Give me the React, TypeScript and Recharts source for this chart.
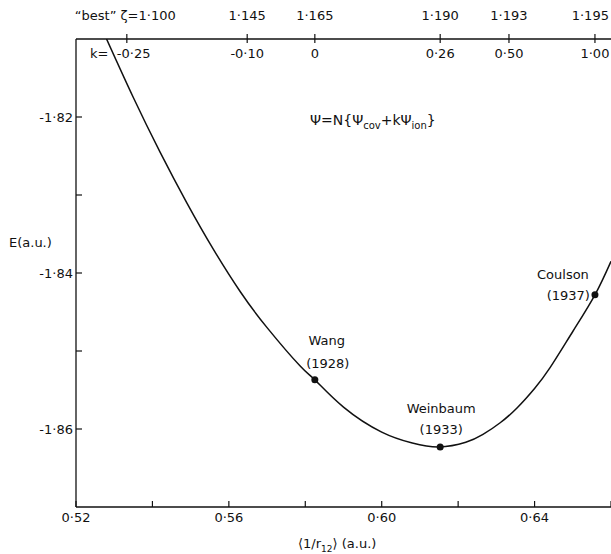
import { ComposedChart, Line, Scatter, XAxis, YAxis } from "recharts";

// energy curve E(<1/r12>)
const curveX = [
  0.528, 0.535, 0.542, 0.549, 0.556, 0.563, 0.57, 0.5786, 0.5825, 0.59, 0.6, 0.608, 0.615, 0.622,
  0.6265, 0.631, 0.6354, 0.64, 0.6441, 0.65, 0.6558, 0.66,
];
const curveE = [
  -1.81, -1.8175, -1.8245, -1.831, -1.837, -1.8424, -1.847, -1.8519, -1.8537, -1.8572, -1.8604,
  -1.8618, -1.8623, -1.8617, -1.8607, -1.8592, -1.8573, -1.8548, -1.8521, -1.8475, -1.8428, -1.8385,
];

// literature wavefunctions
const refNames = ["Wang", "Weinbaum", "Coulson"];
const refYears = ["(1928)", "(1933)", "(1937)"];
const refX = [0.5825, 0.6153, 0.6558];
const refE = [-1.8537, -1.8623, -1.8428];

// axes
const bottomTicks = [0.52, 0.54, 0.56, 0.58, 0.6, 0.62, 0.64, 0.66];
const bottomLabelled = [0.52, 0.56, 0.6, 0.64];
const leftTicks = [-1.86, -1.85, -1.84, -1.83, -1.82];
const leftLabelled = [-1.86, -1.84, -1.82];
const topTickX = [0.5333, 0.5648, 0.5825, 0.6153, 0.6333, 0.6558];
const zetaLabels = ["1·100", "1·145", "1·165", "1·190", "1·193", "1·195"];
const kLabels = ["-0·25", "-0·10", "0", "0·26", "0·50", "1·00"];

const curveRows = curveX.map((x, i) => ({ x, E: curveE[i] }));
const refRows = refX.map((x, i) => ({ x, E: refE[i], name: refNames[i], year: refYears[i] }));

const FONT = "'DejaVu Sans', Verdana, sans-serif";
const INK = "#111";
const FS = 13;

const near = (a: number, b: number) => Math.abs(a - b) < 1e-6;
const fmt = (v: number) => v.toFixed(2).replace(".", "·");

// where the two-line captions sit relative to each dot
const CAPTION: Record<string, { name: [number, number]; year: [number, number]; yearAnchor: string }> = {
  Wang: { name: [12, -35], year: [13, -12], yearAnchor: "middle" },
  Weinbaum: { name: [1, -34], year: [1, -13], yearAnchor: "middle" },
  Coulson: { name: [-32, -16], year: [-5, 5], yearAnchor: "end" },
};

function BottomTick(props: any) {
  const { x, y, payload } = props;
  const v = payload.value as number;
  const labelled = bottomLabelled.some((t) => near(t, v));
  return (
    <g>
      <line x1={x} x2={x} y1={y} y2={y - 6} stroke={INK} strokeWidth={1.2} />
      {labelled && (
        <text x={x} y={y + 15} textAnchor="middle" fontSize={FS} fontFamily={FONT} fill={INK}>
          {fmt(v)}
        </text>
      )}
    </g>
  );
}

function LeftTick(props: any) {
  const { x, y, payload } = props;
  const v = payload.value as number;
  const labelled = leftLabelled.some((t) => near(t, v));
  return (
    <g>
      <line x1={x} x2={x + 6} y1={y} y2={y} stroke={INK} strokeWidth={1.2} />
      {labelled && (
        <text x={x - 3} y={y + 5} textAnchor="end" fontSize={FS} fontFamily={FONT} fill={INK}>
          {fmt(v)}
        </text>
      )}
    </g>
  );
}

function TopTick(props: any) {
  const { x, y, payload } = props;
  const i = topTickX.findIndex((t) => near(t, payload.value));
  if (i < 0) return null;
  const first = i === 0;
  const last = i === topTickX.length - 1;
  return (
    <g fontFamily={FONT} fill={INK} fontSize={FS}>
      <line x1={x} x2={x} y1={y - 5} y2={y + 4} stroke={INK} strokeWidth={1.2} />
      {first ? (
        <text x={x - 52} y={y - 19} textAnchor="start">
          {"\u201Cbest\u201D ζ=" + zetaLabels[i]}
        </text>
      ) : (
        <text x={last ? x + 14 : x} y={y - 19} textAnchor={last ? "end" : "middle"}>
          {zetaLabels[i]}
        </text>
      )}
      <text x={first ? x - 10 : x} y={y + 19} textAnchor={first ? "start" : "middle"}>
        {kLabels[i]}
      </text>
    </g>
  );
}

function RefPoint(props: any) {
  const { cx, cy, payload } = props;
  const c = CAPTION[payload.name];
  return (
    <g fontFamily={FONT} fontSize={FS} fill={INK}>
      <circle cx={cx} cy={cy} r={3.5} fill={INK} />
      <text x={cx + c.name[0]} y={cy + c.name[1]} textAnchor="middle">
        {payload.name}
      </text>
      <text x={cx + c.year[0]} y={cy + c.year[1]} textAnchor={c.yearAnchor as any}>
        {payload.year}
      </text>
    </g>
  );
}

export default function App() {
  return (
    <div style={{ position: "absolute", left: 0, top: 0, width: 611, height: 554, background: "#fff" }}>
      <ComposedChart width={611} height={554} data={curveRows} margin={{ top: 0, right: 0, bottom: 0, left: 0 }}>
        <XAxis
          xAxisId="b"
          dataKey="x"
          type="number"
          domain={[0.52, 0.66]}
          ticks={bottomTicks}
          interval={0}
          height={47}
          allowDataOverflow
          tickLine={false}
          tickSize={0}
          tickMargin={0}
          tick={<BottomTick />}
          axisLine={{ stroke: INK, strokeWidth: 1.3 }}
        />
        <XAxis
          xAxisId="t"
          orientation="top"
          dataKey="x"
          type="number"
          domain={[0.52, 0.66]}
          ticks={topTickX}
          interval={0}
          height={39}
          allowDataOverflow
          tickLine={false}
          tickSize={0}
          tickMargin={0}
          tick={<TopTick />}
          axisLine={{ stroke: INK, strokeWidth: 1.3 }}
        />
        <YAxis
          dataKey="E"
          type="number"
          domain={[-1.87, -1.81]}
          ticks={leftTicks}
          interval={0}
          width={76}
          allowDataOverflow
          tickLine={false}
          tickSize={0}
          tickMargin={0}
          tick={<LeftTick />}
          axisLine={{ stroke: INK, strokeWidth: 1.3 }}
        />
        <Line
          xAxisId="b"
          dataKey="E"
          type="natural"
          stroke={INK}
          strokeWidth={1.5}
          dot={false}
          activeDot={false}
          isAnimationActive={false}
        />
        <Scatter xAxisId="b" data={refRows} dataKey="E" shape={<RefPoint />} isAnimationActive={false} />
      </ComposedChart>
      <svg
        width={611}
        height={554}
        style={{ position: "absolute", left: 0, top: 0, pointerEvents: "none" }}
        fontFamily={FONT}
        fill={INK}
      >
        <text x={90} y={58} fontSize={FS}>
          k=
        </text>
        <text x={9} y={247} fontSize={FS}>
          E(a.u.)
        </text>
        <text x={310} y={125} fontSize={14}>
          Ψ=N{"{"}Ψ
          <tspan dy={4} fontSize={10}>
            cov
          </tspan>
          <tspan dy={-4}>+kΨ</tspan>
          <tspan dy={4} fontSize={10}>
            ion
          </tspan>
          <tspan dy={-4}>{"}"}</tspan>
        </text>
        <text x={298} y={548} fontSize={FS}>
          ⟨1/r
          <tspan dy={4} fontSize={9}>
            12
          </tspan>
          <tspan dy={-4}>⟩  (a.u.)</tspan>
        </text>
      </svg>
    </div>
  );
}
